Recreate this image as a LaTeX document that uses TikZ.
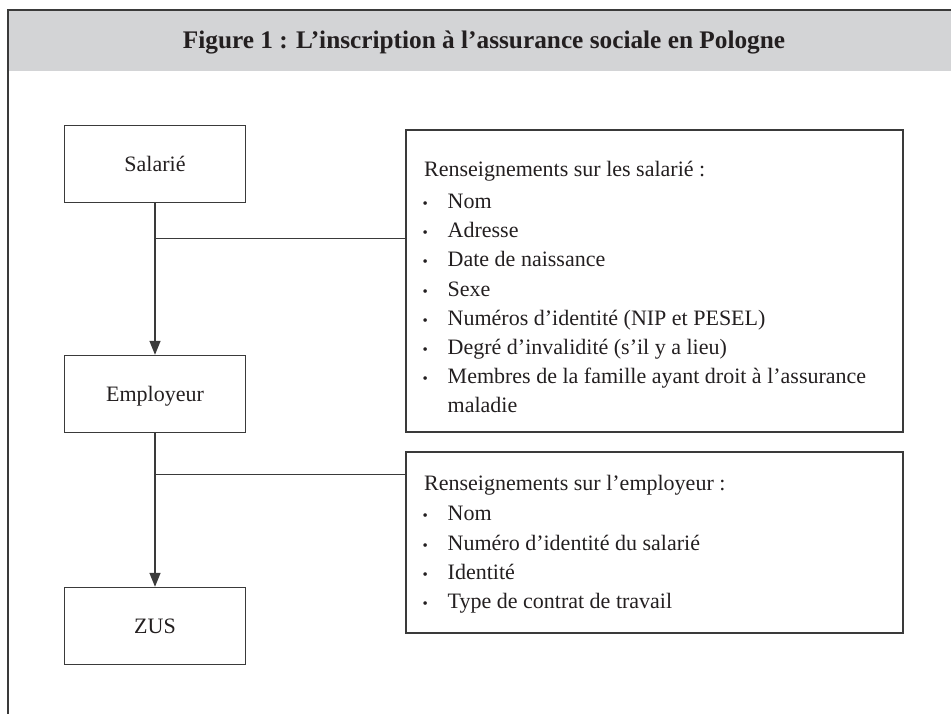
\documentclass[tikz,border=0pt]{standalone}
\usepackage{fontspec}
\setmainfont{Liberation Serif}
\usetikzlibrary{arrows.meta}
\definecolor{ink}{HTML}{231F20}
\definecolor{rule}{HTML}{3A3A3A}
\definecolor{band}{HTML}{D3D4D6}
% bullet item: small dot, then text indented by 23.5pt
\newcommand{\itm}{\makebox[23.5pt][l]{\hspace*{-1.5pt}{\fontsize{15}{15}\selectfont•}}}
\begin{document}
\begin{tikzpicture}[x=1pt,y=-1pt,
  txt/.style={font=\fontsize{22}{29.2}\selectfont, text=ink},
  flowbox/.style={draw=rule, line width=1.4pt, minimum width=181pt, minimum height=77pt,
    inner sep=0pt, text height=15pt, text depth=0pt, txt},
  infobox/.style={draw=rule, line width=1.4pt, inner sep=0pt},
  listtext/.style={txt, anchor=base west, inner sep=0pt},
  link/.style={draw=rule, line width=1.4pt},
  flow/.style={link, -{Triangle[length=14pt,width=11pt]}}]
\useasboundingbox (0,0) rectangle (951,714);
% outer frame with grey title band
\fill[band] (8,10) rectangle (951,71);
\draw[rule, line width=1.4pt] (8,714) -- (8,10) -- (951,10);
\node[font=\fontsize{25.3}{30}\selectfont\bfseries, text=ink, anchor=base, inner sep=0pt]
  (title) at (484,48.3)
  {Figure 1 : L’inscription à l’assurance sociale en Pologne};
% process boxes
\node[flowbox] (sal) at (155,164.3) {Salarié};
\node[flowbox] (emp) at (155,394) {Employeur};
\node[flowbox] (zus) at (155,626) {ZUS};
% information boxes
\node[infobox, minimum width=497pt, minimum height=302pt] (info1) at (654.5,281) {};
\node[infobox, minimum width=497pt, minimum height=181pt] (info2) at (654.5,542.5) {};
\node[listtext] (list1) at (424,176.8)
  {\parbox[t]{470pt}{%
   Renseignements sur les salarié :\\[2.6pt]
   \itm Nom\\
   \itm Adresse\\
   \itm Date de naissance\\
   \itm Sexe\\
   \itm Numéros d’identité (NIP et PESEL)\\
   \itm Degré d’invalidité (s’il y a lieu)\\
   \itm Membres de la famille ayant droit à l’assurance\\
   \hspace*{23.5pt}maladie}};
\node[listtext] (list2) at (424,490.8)
  {\parbox[t]{470pt}{%
   Renseignements sur l’employeur :\\[0.8pt]
   \itm Nom\\
   \itm Numéro d’identité du salarié\\
   \itm Identité\\
   \itm Type de contrat de travail}};
% connectors
\coordinate (j1) at ([yshift=-35pt]sal.south);
\coordinate (j2) at ([yshift=-41pt]emp.south);
\draw[flow] (sal.south) -- (emp.north);
\draw[flow] (emp.south) -- (zus.north);
\draw[link] (j1) -- (j1 -| info1.west);
\draw[link] (j2) -- (j2 -| info2.west);
\end{tikzpicture}
\end{document}
